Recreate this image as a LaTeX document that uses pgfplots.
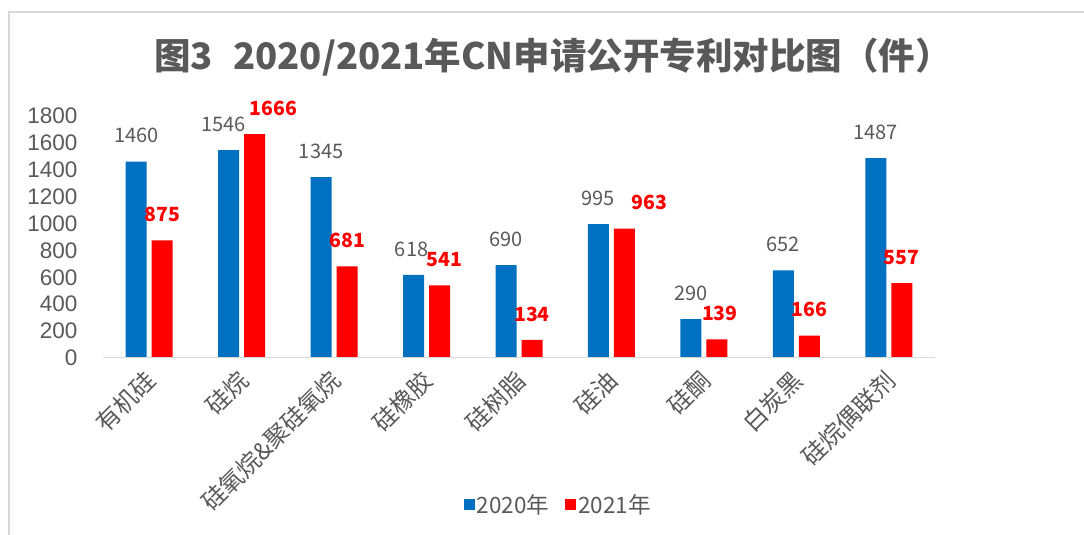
\documentclass[border=0pt]{standalone}
\usepackage{pgfplots}
\usepackage{pgfplotstable}
\pgfplotsset{compat=1.18}
\usepackage{fontspec}
\setmainfont{Noto Sans CJK SC}
\newfontfamily\ticksfont{Liberation Sans}
\definecolor{bblue}{RGB}{0,112,192}
\definecolor{bred}{RGB}{255,0,0}
\definecolor{tgray}{RGB}{89,89,89}
\definecolor{lgray}{RGB}{217,217,217}
\newcommand\xl[1]{\fontsize{24}{28}\selectfont #1}
\pgfplotstableread{
x y20 dx20 y21 dx21
0 1460 0 875 0
1 1546 -5 1666 19
2 1345 0 681 0
3 618 -2 541 5
4 690 0 134 0
5 995 0 963 25
6 290 0 139 3
7 652 0 166 0
8 1487 0 557 0
}\data
\begin{document}
\begin{tikzpicture}[x=1pt,y=1pt]
\path[use as bounding box] (0,0) rectangle (1084,535);
\draw[lgray, line width=1.2pt] (9,0) -- (9,523) -- (1084,523);
\node[text=tgray, font=\fontsize{36.5}{42}\selectfont\bfseries] at (553,478) {图3\hspace{0.55em}2020/2021年CN申请公开专利对比图（件）};
\begin{axis}[
  at={(103pt,177pt)}, anchor=south west,
  scale only axis, width=832pt, height=242pt,
  ymin=0, ymax=1800, ytick={0,200,...,1800},
  xmin=-0.5, xmax=8.5,
  xtick=data,
  xticklabels={\xl{有机硅},\xl{硅烷},\xl{硅氧烷\&聚硅氧烷},\xl{硅橡胶},\xl{硅树脂},\xl{硅油},\xl{硅酮},\xl{白炭黑},\xl{硅烷偶联剂}},
  axis line style={draw=none},
  major tick length=0pt,
  /pgf/number format/assume math mode=true,
  /pgf/number format/1000 sep={},
  yticklabel={\pgfmathprintnumber{\tick}},
  yticklabel style={text=tgray, font=\ticksfont\fontsize{22.5}{26}\selectfont, xshift=-22pt},
  xticklabel style={text=tgray, inner sep=0pt, anchor=north east, xshift=-6pt, yshift=-10pt, rotate=45},
  ybar=5pt, bar width=21pt,
  nodes near coords,
  legend columns=2,
  legend style={draw=none, at={(0.547,-0.607)}, anchor=center, font=\fontsize{22.5}{26}\selectfont, text=tgray,
    /tikz/every even column/.append style={column sep=14pt}},
  legend image code/.code={\fill[#1] (0pt,-5.5pt) rectangle (11pt,5.5pt);},
]
\addplot[fill=bblue, draw=none,
  visualization depends on={\thisrow{dx20} \as \dxx},
  every node near coord/.append style={text=tgray, font=\fontsize{20}{24}\selectfont, anchor=center, yshift=26pt, xshift=\dxx pt}]
  table[x=x, y=y20] {\data};
\addplot[fill=bred, draw=none,
  visualization depends on={\thisrow{dx21} \as \dxx},
  every node near coord/.append style={text=bred, font=\fontsize{19.5}{24}\selectfont\bfseries, anchor=center, yshift=26pt, xshift=\dxx pt}]
  table[x=x, y=y21] {\data};
\legend{2020年,2021年}
\draw[lgray, line width=2pt] (axis cs:-0.5,0) -- (axis cs:8.5,0);
\end{axis}
\end{tikzpicture}
\end{document}
